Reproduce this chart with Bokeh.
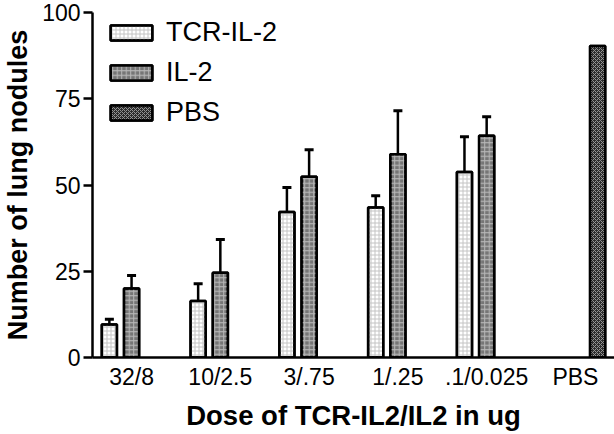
from bokeh.plotting import figure
from bokeh.models import (ColumnDataSource, Range1d, FixedTicker, Whisker, TeeHead,
                          Legend, LegendItem)
from bokeh.embed import file_html
from bokeh.resources import INLINE

# ---- data ----
doses = ["32/8", "10/2.5", "3/.75", "1/.25", ".1/0.025", "PBS"]
tcr_vals = [9.6, 16.4, 42.2, 43.5, 53.8]
tcr_err_top = [11.1, 21.4, 49.3, 46.9, 64.0]
il2_vals = [20.0, 24.6, 52.4, 58.9, 64.3]
il2_err_top = [23.8, 34.2, 60.2, 71.5, 69.8]
pbs_vals = [90.3]
series_names = ["TCR-IL-2", "IL-2", "PBS"]

FONT = "Liberation Sans"

p = figure(width=614, height=434, output_backend="svg", toolbar_location=None,
           x_range=Range1d(-0.44, 5.44), y_range=Range1d(0, 100))
p.styles = {"position": "absolute", "left": "0px", "top": "0px"}
p.min_border_left = 92
p.min_border_right = 0
p.min_border_top = 12
p.min_border_bottom = 77
p.outline_line_color = None
p.xgrid.grid_line_color = None
p.ygrid.grid_line_color = None
p.background_fill_color = "white"
p.border_fill_color = "white"

n = len(tcr_vals)
src_tcr = ColumnDataSource(dict(x=[i - 0.25 for i in range(n)], top=tcr_vals, err=tcr_err_top))
src_il2 = ColumnDataSource(dict(x=[i for i in range(n)], top=il2_vals, err=il2_err_top))
src_pbs = ColumnDataSource(dict(x=[len(doses) - 1 + 0.25], top=pbs_vals))

for src in (src_tcr, src_il2):
    w = Whisker(source=src, base="x", lower="top", upper="err", dimension="height",
                line_color="black", line_width=2.5,
                lower_head=None,
                upper_head=TeeHead(size=9, line_color="black", line_width=3))
    p.add_layout(w)

bw = 0.17
styles = [
    (src_tcr, "#ffffff", "cross", "#c4c4c4", 4),
    (src_il2, "#767676", "cross", "#b8b8b8", 4.5),
    (src_pbs, "#2c2c2c", "diagonal_cross", "#949494", 4),
]
rends = []
for src, fc, hp, hc, hs in styles:
    a = p.vbar(x="x", top="top", width=bw, source=src, fill_color=fc,
               line_color="black", line_width=2.5)
    b = p.vbar(x="x", top="top", width=bw, source=src, fill_color=None, fill_alpha=0,
               hatch_pattern=hp, hatch_color=hc, hatch_scale=hs, hatch_weight=1,
               line_color="black", line_width=2.5)
    rends.append([a, b])

legend = Legend(items=[LegendItem(label=series_names[i], renderers=rends[i]) for i in range(3)],
                location=(13, 229))
legend.glyph_width = 52
legend.glyph_height = 19
legend.label_height = 32
legend.spacing = 8
legend.padding = 0
legend.margin = 0
legend.label_standoff = 9
legend.label_text_font = FONT
legend.label_text_font_size = "27px"
legend.label_text_color = "black"
legend.label_text_baseline = "middle"
legend.border_line_color = None
legend.background_fill_alpha = 0
p.add_layout(legend)

# axes
p.yaxis.ticker = FixedTicker(ticks=[0, 25, 50, 75, 100])
p.yaxis.axis_line_width = 2.5
p.yaxis.major_tick_line_width = 2.5
p.yaxis.major_tick_out = 9
p.yaxis.major_tick_in = 0
p.yaxis.minor_tick_line_color = None
p.yaxis.major_label_text_font = FONT
p.yaxis.major_label_text_font_size = "23px"
p.yaxis.major_label_text_color = "black"
p.yaxis.major_label_standoff = 3
p.yaxis.axis_label = "Number of lung nodules"
p.yaxis.axis_label_text_font = FONT
p.yaxis.axis_label_text_font_style = "bold"
p.yaxis.axis_label_text_font_size = "27px"
p.yaxis.axis_label_text_color = "black"
p.yaxis.axis_label_standoff = 6

p.xaxis.ticker = FixedTicker(ticks=list(range(len(doses))))
p.xaxis.major_label_overrides = {i: d for i, d in enumerate(doses)}
p.xaxis.axis_line_width = 2.5
p.xaxis.major_tick_line_color = None
p.xaxis.minor_tick_line_color = None
p.xaxis.major_label_text_font = FONT
p.xaxis.major_label_text_font_size = "23px"
p.xaxis.major_label_text_color = "black"
p.xaxis.major_label_standoff = 0
p.xaxis.axis_label = "Dose of TCR-IL2/IL2 in ug"
p.xaxis.axis_label_text_font = FONT
p.xaxis.axis_label_text_font_style = "bold"
p.xaxis.axis_label_text_font_size = "27.5px"
p.xaxis.axis_label_text_color = "black"
p.xaxis.axis_label_standoff = 7

open("out.html", "w").write(file_html(p, INLINE))
